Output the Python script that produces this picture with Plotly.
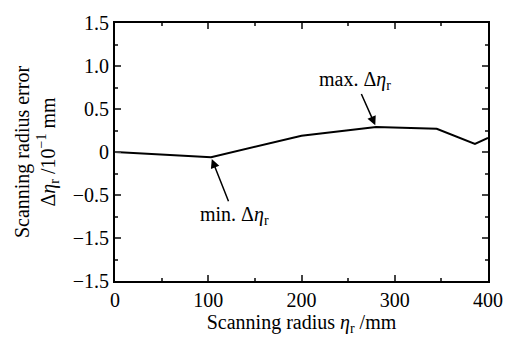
import plotly.graph_objects as go

radius = [0, 103, 200, 280, 345, 386, 400]
error = [0, -0.06, 0.19, 0.29, 0.27, 0.095, 0.165]

x_ticks = [0, 100, 200, 300, 400]
y_ticks = [1.5, 1.0, 0.5, 0, -0.5, -1.0, -1.5]
y_tick_labels = ["1.5", "1.0", "0.5", "0", "−0.5", "−1.5", "−1.5"]

font_family = "Liberation Serif"
fs = 20

fig = go.Figure()
fig.add_trace(go.Scatter(x=radius, y=error, mode="lines",
                         line=dict(color="black", width=2), showlegend=False))

fig.add_annotation(x=radius[3], y=error[3], ax=-21, ay=-47,
                   text="max. Δ<i>η</i><sub>r</sub>", showarrow=True, arrowhead=2,
                   arrowsize=1.2, arrowwidth=1.5, arrowcolor="black", standoff=2,
                   font=dict(size=fs, family=font_family, color="black"))
fig.add_annotation(x=radius[1], y=error[1], ax=23, ay=58,
                   text="min. Δ<i>η</i><sub>r</sub>", showarrow=True, arrowhead=2,
                   arrowsize=1.2, arrowwidth=1.5, arrowcolor="black", standoff=2,
                   font=dict(size=fs, family=font_family, color="black"))

fig.update_layout(
    width=521, height=337,
    margin=dict(l=115, r=33, t=15, b=48),
    plot_bgcolor="white", paper_bgcolor="white",
    font=dict(family=font_family, size=fs, color="black"),
    xaxis=dict(range=[0, 400], tickvals=x_ticks, ticks="inside", ticklen=6, tickwidth=1.5,
               showline=True, linecolor="black", linewidth=2, mirror="ticks",
               showgrid=False, zeroline=False,
               minor=dict(dtick=50, ticks="inside", ticklen=3, tickwidth=1.5, showgrid=False),
               title=dict(text="Scanning radius <i>η</i><sub>r</sub> /mm", standoff=0,
                          font=dict(size=fs, family=font_family)),
               tickfont=dict(size=fs, family=font_family)),
    yaxis=dict(range=[-1.5, 1.5], tickvals=y_ticks, ticktext=y_tick_labels,
               ticks="inside", ticklen=6, tickwidth=1.5,
               showline=True, linecolor="black", linewidth=2, mirror="ticks",
               showgrid=False, zeroline=False,
               minor=dict(dtick=0.25, ticks="inside", ticklen=3, tickwidth=1.5, showgrid=False),
               title=dict(text="Scanning radius error<br>Δ<i>η</i><sub>r</sub> /10<sup>−1</sup> mm",
                          standoff=12, font=dict(size=fs, family=font_family)),
               tickfont=dict(size=fs, family=font_family)),
)

fig.write_html("out.html")
